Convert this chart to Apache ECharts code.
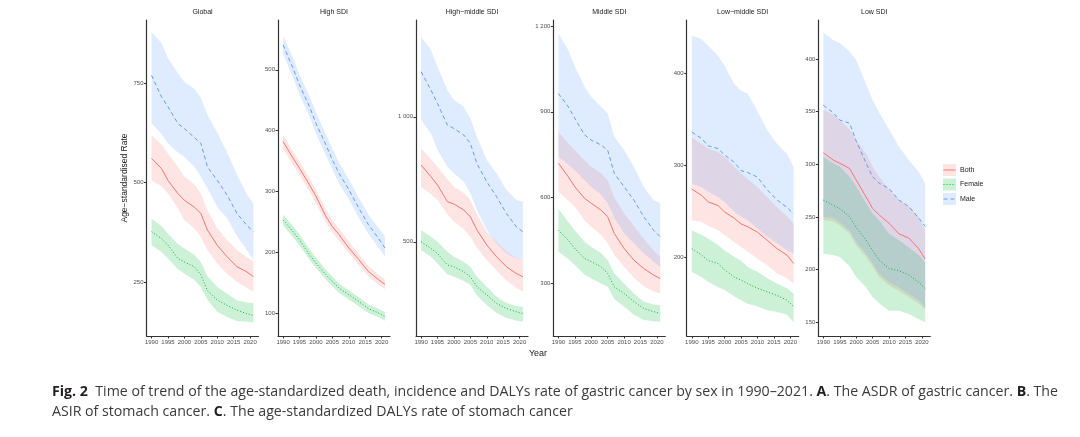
<!DOCTYPE html>
<html>
<head>
<meta charset="utf-8">
<script src="https://cdn.jsdelivr.net/npm/echarts@6/dist/echarts.min.js"></script>
<style>
  html, body { margin: 0; padding: 0; background: #fff; }
  #chart { width: 1080px; height: 437px; }
</style>
</head>
<body>
<div id="chart"></div>
<script>
// years
const years = [1990, 1993, 1995, 1998, 2000, 2003, 2005, 2007, 2010, 2013, 2016, 2019, 2021];
const panelNames = ['Global', 'High SDI', 'High\u2212middle SDI', 'Middle SDI', 'Low\u2212middle SDI', 'Low SDI'];
const sexes = ['Both', 'Female', 'Male'];

// Global
const globalBoth = [560, 535, 505, 472, 455, 438, 422, 380, 342, 313, 288, 275, 263];
const globalBothLow = [505, 490, 472, 435, 405, 385, 363, 330, 296, 270, 250, 235, 225];
const globalBothHigh = [618, 595, 572, 540, 514, 495, 472, 430, 385, 355, 330, 312, 302];
const globalFemale = [376, 359, 342, 309, 300, 288, 268, 228, 204, 191, 179, 170, 166];
const globalFemaleLow = [342, 325, 309, 282, 271, 255, 237, 205, 175, 162, 152, 150, 148];
const globalFemaleHigh = [409, 390, 371, 345, 334, 318, 300, 265, 237, 220, 204, 198, 196];
const globalMale = [769, 715, 690, 648, 635, 613, 598, 539, 505, 468, 422, 392, 376];
const globalMaleLow = [648, 622, 598, 575, 564, 540, 514, 485, 438, 410, 365, 330, 306];
const globalMaleHigh = [878, 850, 812, 775, 752, 735, 712, 670, 625, 575, 520, 470, 447];

// High SDI
const highBoth = [382, 355, 338, 311, 292, 259, 242, 229, 207, 188, 168, 155, 147];
const highBothLow = [370, 344, 327, 300, 281, 249, 232, 219, 198, 179, 160, 147, 139];
const highBothHigh = [393, 366, 349, 322, 303, 270, 253, 239, 217, 197, 177, 163, 155];
const highFemale = [253, 234, 220, 196, 182, 163, 152, 141, 130, 119, 107, 100, 94];
const highFemaleLow = [244, 225, 211, 188, 174, 155, 144, 133, 122, 111, 100, 93, 87];
const highFemaleHigh = [262, 243, 229, 205, 191, 171, 160, 149, 137, 126, 114, 107, 101];
const highMale = [541, 503, 475, 440, 412, 377, 352, 330, 303, 273, 245, 223, 207];
const highMaleLow = [526, 488, 459, 424, 395, 360, 336, 313, 287, 257, 230, 208, 193];
const highMaleHigh = [556, 520, 492, 457, 430, 394, 370, 348, 320, 290, 262, 240, 226];

// High-middle SDI
const hmBoth = [807, 760, 727, 660, 651, 627, 600, 547, 487, 440, 400, 373, 360];
const hmBothLow = [720, 690, 667, 610, 580, 550, 520, 475, 427, 385, 345, 315, 300];
const hmBothHigh = [873, 830, 800, 750, 720, 695, 667, 610, 540, 500, 460, 435, 427];
const hmFemale = [500, 473, 453, 407, 400, 380, 360, 320, 287, 253, 233, 220, 213];
const hmFemaleLow = [467, 440, 413, 370, 360, 343, 327, 285, 247, 215, 195, 185, 180];
const hmFemaleHigh = [547, 520, 500, 460, 440, 420, 400, 360, 320, 280, 255, 243, 240];
const hmMale = [1180, 1107, 1053, 967, 953, 927, 893, 813, 740, 680, 613, 560, 540];
const hmMaleLow = [987, 933, 867, 800, 773, 740, 693, 627, 547, 493, 453, 433, 427];
const hmMaleHigh = [1320, 1267, 1200, 1107, 1067, 1040, 993, 920, 827, 773, 707, 667, 660];

// Middle SDI
const midBoth = [720, 673, 638, 597, 580, 556, 533, 475, 422, 381, 352, 329, 317];
const midBothLow = [620, 590, 568, 520, 498, 470, 440, 400, 358, 320, 290, 272, 265];
const midBothHigh = [830, 790, 766, 730, 708, 685, 661, 600, 545, 500, 455, 415, 393];
const midFemale = [486, 451, 422, 387, 376, 358, 335, 288, 265, 236, 212, 201, 195];
const midFemaleLow = [411, 385, 364, 330, 317, 300, 288, 245, 218, 190, 172, 168, 166];
const midFemaleHigh = [562, 515, 486, 445, 428, 405, 381, 335, 300, 265, 236, 226, 224];
const midMale = [964, 918, 877, 819, 801, 784, 766, 685, 638, 591, 533, 486, 463];
const midMaleLow = [743, 715, 696, 660, 638, 610, 580, 530, 475, 440, 405, 375, 358];
const midMaleHigh = [1174, 1116, 1058, 988, 953, 918, 894, 813, 766, 708, 638, 591, 580];

// Low-middle SDI
const lmBoth = [274, 267, 260, 256, 249, 242, 236, 233, 227, 218, 209, 202, 193];
const lmBothLow = [240, 238, 234, 229, 224, 216, 211, 206, 198, 191, 182, 177, 171];
const lmBothHigh = [330, 323, 318, 314, 309, 298, 291, 285, 276, 265, 254, 244, 236];
const lmFemale = [209, 202, 196, 193, 186, 178, 175, 171, 166, 162, 158, 153, 146];
const lmFemaleLow = [184, 178, 173, 167, 164, 157, 153, 149, 146, 142, 140, 137, 129];
const lmFemaleHigh = [229, 224, 220, 213, 207, 200, 196, 189, 184, 177, 171, 166, 160];
const lmMale = [336, 329, 321, 318, 311, 303, 294, 292, 287, 273, 262, 254, 247];
const lmMaleLow = [280, 276, 271, 265, 260, 249, 244, 240, 231, 222, 215, 207, 204];
const lmMaleHigh = [441, 437, 430, 419, 408, 388, 381, 378, 359, 338, 323, 312, 298];

// Low SDI
const lowBoth = [311, 304, 301, 296, 285, 269, 258, 252, 244, 234, 230, 220, 210];
const lowBothLow = [247, 246, 242, 234, 223, 212, 203, 193, 185, 180, 174, 168, 162];
const lowBothHigh = [352, 347, 342, 333, 323, 310, 298, 288, 276, 266, 260, 250, 237];
const lowFemale = [266, 261, 258, 250, 240, 228, 218, 209, 201, 199, 195, 188, 182];
const lowFemaleLow = [215, 214, 212, 203, 193, 183, 174, 168, 161, 161, 158, 153, 150];
const lowFemaleHigh = [307, 301, 298, 288, 279, 263, 253, 247, 234, 228, 221, 214, 207];
const lowMale = [356, 349, 342, 339, 322, 301, 288, 282, 277, 266, 260, 249, 241];
const lowMaleLow = [250, 249, 245, 237, 226, 215, 206, 196, 188, 183, 177, 171, 164];
const lowMaleHigh = [425, 418, 415, 407, 399, 376, 361, 349, 333, 317, 304, 293, 282];

// tick labels
const xTicks = [1990, 1995, 2000, 2005, 2010, 2015, 2020];
const yTicks = [
  [250, 500, 750],
  [100, 200, 300, 400, 500],
  [500, 1000],
  [300, 600, 900, 1200],
  [200, 300, 400],
  [150, 200, 250, 300, 350, 400]
];
const yMin = [114, 62, 123, 116, 114, 137];
const yMax = [908, 582, 1387, 1221, 458, 437];

const captionLine1 = [
  ['Fig. 2', true],
  ['  Time of trend of the age-standardized death, incidence and DALYs rate of gastric cancer by sex in 1990\u20132021. ', false],
  ['A', true], ['. The ASDR of gastric cancer. ', false],
  ['B', true], ['. The', false]
];
const captionLine2 = [
  ['ASIR of stomach cancer. ', false],
  ['C', true], ['. The age-standardized DALYs rate of stomach cancer', false]
];

// built from the arrays above
const panelData = [
  [[globalBoth, globalBothLow, globalBothHigh], [globalFemale, globalFemaleLow, globalFemaleHigh], [globalMale, globalMaleLow, globalMaleHigh]],
  [[highBoth, highBothLow, highBothHigh], [highFemale, highFemaleLow, highFemaleHigh], [highMale, highMaleLow, highMaleHigh]],
  [[hmBoth, hmBothLow, hmBothHigh], [hmFemale, hmFemaleLow, hmFemaleHigh], [hmMale, hmMaleLow, hmMaleHigh]],
  [[midBoth, midBothLow, midBothHigh], [midFemale, midFemaleLow, midFemaleHigh], [midMale, midMaleLow, midMaleHigh]],
  [[lmBoth, lmBothLow, lmBothHigh], [lmFemale, lmFemaleLow, lmFemaleHigh], [lmMale, lmMaleLow, lmMaleHigh]],
  [[lowBoth, lowBothLow, lowBothHigh], [lowFemale, lowFemaleLow, lowFemaleHigh], [lowMale, lowMaleLow, lowMaleHigh]]
];

const lineColors = ['#F8766D', '#00BA38', '#619CFF'];
const bandColors = ['rgba(248,118,109,0.2)', 'rgba(0,186,56,0.2)', 'rgba(97,156,255,0.2)'];
const lineTypes = ['solid', [1, 2], [4, 3]];

const gridLeft = [146.5, 278, 416, 553.3, 686.7, 818.3];
const gridWidth = 112;
const gridTop = 20;
const gridHeight = 316;
const axisColor = '#333';
const labelColor = '#4d4d4d';
const fontFamily = '"Liberation Sans", Arial, sans-serif';

const chart = echarts.init(document.getElementById('chart'), null, { renderer: 'canvas' });

function fmtNum(v) {
  return v >= 1000 ? String(v).replace(/(\d)(\d{3})$/, '$1 $2') : String(v);
}

const grids = [], xAxes = [], yAxes = [], series = [];
panelNames.forEach((name, i) => {
  grids.push({ left: gridLeft[i], top: gridTop, width: gridWidth, height: gridHeight });
  xAxes.push({
    type: 'value', gridIndex: i, min: 1988.45, max: 2022.55,
    axisLine: { show: true, lineStyle: { color: axisColor, width: 1.2 } },
    axisTick: { show: true, length: 2.5, customValues: xTicks, lineStyle: { color: axisColor } },
    axisLabel: {
      customValues: xTicks, fontSize: 6, color: labelColor, margin: 3.5, fontFamily: fontFamily,
      formatter: v => String(v)
    },
    splitLine: { show: false }
  });
  yAxes.push({
    type: 'value', gridIndex: i, min: yMin[i], max: yMax[i],
    axisLine: { show: true, lineStyle: { color: axisColor, width: 1.2 } },
    axisTick: { show: true, length: 2.5, customValues: yTicks[i], lineStyle: { color: axisColor } },
    axisLabel: { customValues: yTicks[i], fontSize: 6, color: labelColor, margin: 3, fontFamily: fontFamily, formatter: fmtNum },
    splitLine: { show: false }
  });

  // ribbons first
  panelData[i].forEach((s, k) => {
    const lo = s[1], hi = s[2];
    series.push({
      type: 'custom', xAxisIndex: i, yAxisIndex: i, silent: true, z: 1,
      data: [[years[0], lo[0]]],
      renderItem: function (params, api) {
        const pts = [];
        years.forEach((yr, j) => pts.push(api.coord([yr, hi[j]])));
        for (let j = years.length - 1; j >= 0; j--) pts.push(api.coord([years[j], lo[j]]));
        return { type: 'polygon', shape: { points: pts }, style: { fill: bandColors[k] } };
      }
    });
  });
  // then lines
  panelData[i].forEach((s, k) => {
    series.push({
      type: 'line', name: sexes[k], xAxisIndex: i, yAxisIndex: i, z: 3,
      showSymbol: false, silent: true, animation: false,
      data: years.map((yr, j) => [yr, s[0][j]]),
      lineStyle: { color: lineColors[k], width: 1, type: lineTypes[k] }
    });
  });
});

// panel titles, axis titles, legend
const graphics = [];
panelNames.forEach((name, i) => {
  graphics.push({
    type: 'text', x: gridLeft[i] + gridWidth / 2, y: 12,
    style: { text: name, fontSize: 7, fill: '#222', fontFamily: fontFamily, align: 'center', verticalAlign: 'middle' }
  });
});
graphics.push({
  type: 'text', x: 125, y: 178, rotation: Math.PI / 2,
  style: { text: 'Age\u2212standardised Rate', fontSize: 8.5, fill: '#222', fontFamily: fontFamily, align: 'center', verticalAlign: 'middle' }
});
graphics.push({
  type: 'text', x: 538, y: 354,
  style: { text: 'Year', fontSize: 9, fill: '#222', fontFamily: fontFamily, align: 'center', verticalAlign: 'middle' }
});
const legendY = [170, 184.5, 199];
sexes.forEach((s, k) => {
  graphics.push({
    type: 'rect', shape: { x: 943, y: legendY[k] - 6, width: 13, height: 12 },
    style: { fill: bandColors[k] }
  });
  graphics.push({
    type: 'line', shape: { x1: 943.5, y1: legendY[k], x2: 955.5, y2: legendY[k] },
    style: { stroke: lineColors[k], lineWidth: 1, lineDash: k === 0 ? null : lineTypes[k] }
  });
  graphics.push({
    type: 'text', x: 960, y: legendY[k],
    style: { text: s, fontSize: 7, fill: '#222', fontFamily: fontFamily, verticalAlign: 'middle' }
  });
});

// caption, squeezed to the width of the original line
const capFont = '"Open Sans", "Noto Sans", sans-serif';
const ctx = document.createElement('canvas').getContext('2d');
function partWidth(parts) {
  let w = 0;
  parts.forEach(p => {
    ctx.font = (p[1] ? 'bold ' : '') + '14px ' + capFont;
    w += ctx.measureText(p[0]).width;
  });
  return w;
}
const capScale = 1006 / partWidth(captionLine1);
function richText(parts) {
  return parts.map(p => p[1] ? '{b|' + p[0] + '}' : '{n|' + p[0] + '}').join('');
}
const capRich = {
  b: { fontWeight: 'bold', fontSize: 14, fontFamily: capFont, fill: '#231f20' },
  n: { fontSize: 14, fontFamily: capFont, fill: '#3a3a3a' }
};
graphics.push({
  type: 'group', x: 52, y: 0, scaleX: capScale,
  children: [
    { type: 'text', x: 0, y: 392, style: { text: richText(captionLine1), rich: capRich, verticalAlign: 'middle' } },
    { type: 'text', x: 0, y: 412, style: { text: richText(captionLine2), rich: capRich, verticalAlign: 'middle' } }
  ]
});

chart.setOption({
  animation: false,
  backgroundColor: '#fff',
  grid: grids,
  xAxis: xAxes,
  yAxis: yAxes,
  series: series,
  graphic: graphics
});
</script>
</body>
</html>
